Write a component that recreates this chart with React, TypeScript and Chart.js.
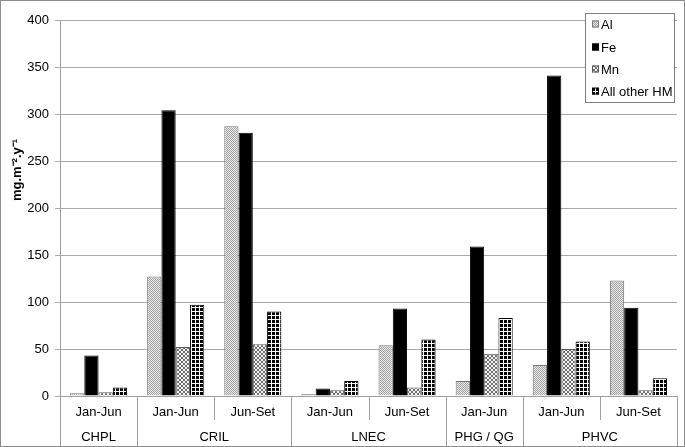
import React, { useEffect, useRef } from "react";
import { Chart, registerables } from "chart.js";

Chart.register(...registerables);

const categories = ["Jan-Jun", "Jan-Jun", "Jun-Set", "Jan-Jun", "Jun-Set", "Jan-Jun", "Jan-Jun", "Jun-Set"];
const groups = ["CHPL", "CRIL", "LNEC", "PHG / QG", "PHVC"];
const groupSpans = [1, 2, 2, 1, 2];
const seriesNames = ["Al", "Fe", "Mn", "All other HM"];
const al = [3, 127, 287, 2, 54, 16, 33, 123];
const fe = [43, 304, 280, 8, 93, 159, 341, 94];
const mn = [4, 52, 55, 6, 9, 45, 50, 6];
const other = [9, 97, 90, 16, 60, 83, 58, 19];
const yMax = 400;
const yStep = 50;
const yTitle = "mg.m\u207B\u00B2.y\u207B\u00B9";

function makePattern(kind: string): CanvasPattern | string {
  const c = document.createElement("canvas");
  const ctx = c.getContext("2d")!;
  if (kind === "al") {
    c.width = 2; c.height = 2;
    ctx.fillStyle = "#e8e8e8"; ctx.fillRect(0, 0, 2, 2);
    ctx.fillStyle = "#a4a4a4"; ctx.fillRect(0, 0, 1, 1); ctx.fillRect(1, 1, 1, 1);
  } else if (kind === "mn") {
    c.width = 4; c.height = 4;
    ctx.fillStyle = "#f4f4f4"; ctx.fillRect(0, 0, 4, 4);
    ctx.fillStyle = "#6e6e6e";
    for (let i = 0; i < 4; i++) {
      ctx.fillRect(i, i, 1, 1);
      ctx.fillRect(3 - i, i, 1, 1);
    }
  } else if (kind === "other") {
    c.width = 4; c.height = 4;
    ctx.fillStyle = "#ffffff"; ctx.fillRect(0, 0, 4, 4);
    ctx.fillStyle = "#000000";
    ctx.fillRect(0, 0, 3, 3);
  } else {
    return "#000000";
  }
  return ctx.createPattern(c, "repeat")!;
}

const FONT = "'Liberation Sans', Arial, sans-serif";

export default function App() {
  const ref = useRef<HTMLCanvasElement | null>(null);
  useEffect(() => {
    const canvas = ref.current!;
    const fills = [makePattern("al"), makePattern("fe"), makePattern("mn"), makePattern("other")];
    const borders = ["#7a7a7a", "#000000", "#5a5a5a", "#000000"];
    const dataArr = [al, fe, mn, other];

    const overlay = {
      id: "overlay",
      afterDraw(chart: any) {
        const ctx = chart.ctx;
        const xs = chart.scales.x;
        const area = chart.chartArea;
        const H = chart.height;
        const W = chart.width;
        const step = xs.getPixelForValue(1) - xs.getPixelForValue(0);
        const x0 = xs.getPixelForValue(0) - step / 2;
        ctx.save();
        ctx.strokeStyle = "#a0a0a0";
        ctx.lineWidth = 1;
        const groupBounds = new Set<number>();
        let acc = 0;
        groupBounds.add(0);
        groupSpans.forEach((s) => { acc += s; groupBounds.add(acc); });
        for (let k = 0; k <= categories.length; k++) {
          const bx = Math.round(x0 + k * step) + 0.5;
          const y2 = groupBounds.has(k) ? H : area.bottom + 24;
          ctx.beginPath();
          ctx.moveTo(bx, area.bottom);
          ctx.lineTo(bx, y2);
          ctx.stroke();
        }
        ctx.fillStyle = "#000";
        ctx.font = `13px ${FONT}`;
        ctx.textAlign = "center";
        ctx.textBaseline = "middle";
        acc = 0;
        groups.forEach((g, i) => {
          const a = x0 + acc * step;
          acc += groupSpans[i];
          const b = x0 + acc * step;
          ctx.fillText(g, (a + b) / 2, 437);
        });
        ctx.save();
        ctx.translate(17, 170);
        ctx.rotate(-Math.PI / 2);
        ctx.font = `bold 13px ${FONT}`;
        ctx.fillText(yTitle, 0, 0);
        ctx.restore();
        const lx = 585, ly = 13, lw = 89, lh = 89;
        ctx.fillStyle = "#ffffff";
        ctx.fillRect(lx, ly, lw, lh);
        ctx.strokeStyle = "#808080";
        ctx.strokeRect(lx + 0.5, ly + 0.5, lw, lh);
        const ys = [24, 47, 69, 91];
        ctx.font = `13px ${FONT}`;
        ctx.textAlign = "left";
        seriesNames.forEach((n, i) => {
          ctx.fillStyle = fills[i] as any;
          ctx.fillRect(592, ys[i] - 3.5, 7, 7);
          ctx.strokeStyle = borders[i];
          ctx.strokeRect(592.5, ys[i] - 3, 6, 6);
          ctx.fillStyle = "#000";
          ctx.fillText(n, 601, ys[i] + 1);
        });
        ctx.strokeStyle = "#8c8c8c";
        ctx.strokeRect(0.5, 0.5, W - 1, H - 1);
        ctx.restore();
      },
    };

    const chart = new Chart(canvas, {
      type: "bar",
      data: {
        labels: categories,
        datasets: seriesNames.map((n, i) => ({
          label: n,
          data: dataArr[i],
          backgroundColor: fills[i] as any,
          borderColor: borders[i],
          borderWidth: 1,
          categoryPercentage: 0.74,
          barPercentage: 1,
        })),
      },
      options: {
        animation: false,
        responsive: false,
        maintainAspectRatio: false,
        events: [],
        layout: { padding: { top: 20, right: 8, left: 0, bottom: 0 } },
        plugins: { legend: { display: false }, tooltip: { enabled: false } },
        scales: {
          x: {
            grid: { display: false, drawTicks: false },
            border: { display: true, color: "#a0a0a0" },
            ticks: { color: "#000", font: { family: FONT, size: 13 }, padding: 9, maxRotation: 0, autoSkip: false },
            afterFit(scale: any) { scale.height = 51; },
          },
          y: {
            min: 0,
            max: yMax,
            ticks: { stepSize: yStep, color: "#000", font: { family: FONT, size: 13 }, padding: 6 },
            grid: { color: "#ababab", tickLength: 5, drawTicks: true },
            border: { display: true, color: "#a0a0a0" },
            afterFit(scale: any) { scale.width = 60; },
          },
        },
      },
      plugins: [overlay],
    });
    return () => chart.destroy();
  }, []);
  return (
    <div style={{ position: "fixed", left: 0, top: 0, width: 685, height: 447, background: "#fff" }}>
      <canvas ref={ref} width={685} height={447} style={{ display: "block" }} />
    </div>
  );
}
